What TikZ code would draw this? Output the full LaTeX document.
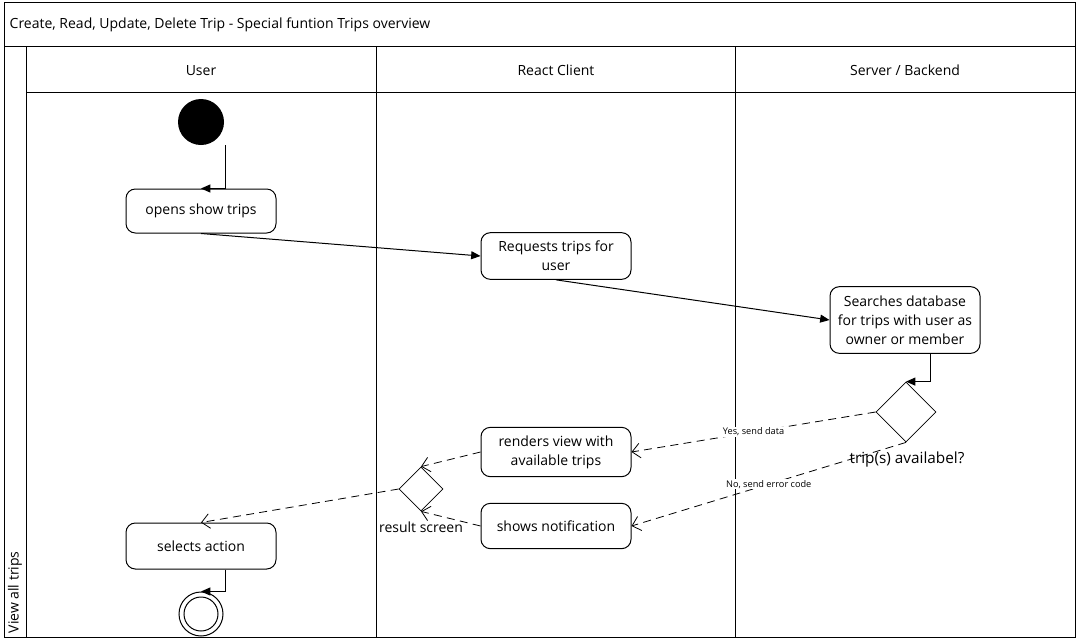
\documentclass[tikz,border=0pt]{standalone}
\usepackage{fontspec}
\setmainfont{Open Sans}
\usetikzlibrary{shapes.geometric, arrows.meta}

\begin{document}
\begin{tikzpicture}[x=0.75pt, y=-0.75pt, font=\fontsize{10.5}{14.2}\selectfont,
        >={Triangle[length=7pt, width=6pt]},
        action/.style={draw, line width=0.75pt, rounded corners=7pt, minimum width=112.5pt, align=center, inner sep=2pt},
        decision/.style={draw, diamond, line width=0.6pt, inner sep=0pt},
        answer/.style={dashed, dash pattern=on 6pt off 4pt, line width=0.6pt, -{Straight Barb[length=6pt, width=11pt]}},
        flow/.style={->, line width=0.75pt},
        lane/.style={line width=0.75pt},
        guard/.style={font=\fontsize{6.9}{8}\selectfont, fill=white, inner sep=0.5pt}]
    \useasboundingbox (0,0) rectangle (1078,643);

    % swimlanes
    \draw[lane] (4,2) rectangle (1075,637);
    \draw[lane] (4,46) -- (1075,46);
    \draw[lane] (26,46) -- (26,637);
    \draw[lane] (26,92) -- (1075,92);
    \draw[lane] (376,46) -- (376,637);
    \draw[lane] (735,46) -- (735,637);

    \node[anchor=west] (title) at (5,25) {Create, Read, Update, Delete Trip - Special funtion Trips overview};
    \node[anchor=west, rotate=90] (view_all_trips) at (15,638) {View all trips};
    \node (lane_user)   at (201,70.5) {User};
    \node (lane_client) at (556,70.5) {React Client};
    \node (lane_server) at (905,70.5) {Server / Backend};

    % states
    \node[circle, fill=black, minimum size=34.5pt, inner sep=0pt] (start) at (201,122) {};
    \node[action] (opens_show_trips) at (201,211) [minimum height=33pt] {opens show trips};
    \node[action] (requests_trips)   at (556,256) [minimum height=35pt] {Requests trips for\\user};
    \node[action] (searches_db)      at (905,320) [minimum height=50pt] {Searches database\\for trips with user as\\owner or member};
    \node[decision, minimum width=45pt, minimum height=45pt] (trip_available) at (906,412) {};
    \node[font=\fontsize{11.5}{13}\selectfont] (trip_available_label) at (907,460) {trip(s) availabel?};
    \node[action] (renders_view)      at (556,452) [minimum height=37pt] {renders view with\\available trips};
    \node[action] (shows_notification) at (556,526) [minimum height=34pt] {shows notification};
    \node[decision, minimum width=33pt, minimum height=33pt] (result_screen) at (421,489) {};
    \node (result_screen_label) at (421,527) {result screen};
    \node[action] (selects_action) at (201,546) [minimum height=34.5pt] {selects action};
    \node[circle, draw, line width=0.75pt, minimum size=33pt, inner sep=0pt] (end) at (201,614) {};
    \node[circle, draw, line width=0.75pt, minimum size=25.5pt, inner sep=0pt] (end_inner) at (end) {};

    % transitions
    \draw[flow] ([xshift=18pt]start.south) |- (opens_show_trips.north);
    \path[flow] (opens_show_trips.south) edge (requests_trips.west)
                (requests_trips.south)   edge (searches_db.west);
    \draw[flow] ([xshift=18.75pt]searches_db.south) |- (trip_available.north);
    \draw[answer] (trip_available.west) -- node[guard] {Yes, send data} (renders_view.east);
    \draw[answer] (trip_available.south) -- node[guard] {No, send error code} (shows_notification.east);
    \draw[answer] (renders_view.west) -- (result_screen.north);
    \draw[answer] (shows_notification.west) -- (result_screen.south);
    \draw[answer] (result_screen.west) -- (selects_action.north);
    \draw[flow] ([xshift=18pt]selects_action.south) |- (end.north);
\end{tikzpicture}
\end{document}
